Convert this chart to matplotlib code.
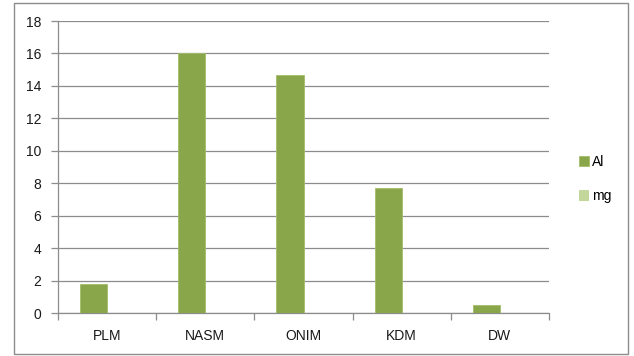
import numpy as np
import matplotlib
matplotlib.use("Agg")
import matplotlib.pyplot as plt
from matplotlib.patches import Rectangle

categories = ["PLM", "NASM", "ONIM", "KDM", "DW"]
al_values = [1.8, 16.0, 14.7, 7.7, 0.5]
mg_values = [0.0, 0.0, 0.0, 0.0, 0.0]
y_ticks = [0, 2, 4, 6, 8, 10, 12, 14, 16, 18]

plt.rcParams["font.family"] = ["Liberation Sans", "DejaVu Sans"]

W, H = 634, 356
fig = plt.figure(figsize=(W / 100, H / 100), dpi=100)
# plot area in pixels: x 58..549, y 21..313
ax = fig.add_axes([58 / W, 1 - 313.3 / H, (549 - 58) / W, (313.3 - 21) / H])

# chart border
fig.patches.append(Rectangle((14 / W, 1 - 354 / H), 614 / W, 351 / H,
                             transform=fig.transFigure, fill=False,
                             edgecolor="#8c8c8c", linewidth=1.0))

x = np.arange(len(categories))
w = 0.275
ax.bar(x - w / 2, al_values, w, color="#8aa64b", edgecolor="#a4bd6a", linewidth=0.6, label="Al", zorder=3)
ax.bar(x + w / 2, mg_values, w, color="#c3d69b", label="mg", zorder=3)

ax.set_xlim(-0.5, len(categories) - 0.5)
ax.set_ylim(0, 18)
ax.set_yticks(y_ticks)
ax.set_yticklabels([str(t) for t in y_ticks], fontsize=10, color="#1a1a1a")
ax.yaxis.grid(True, color="#8c8c8c", linewidth=0.9, zorder=0)
ax.set_axisbelow(True)

ax.set_xticks(x)
ax.set_xticklabels(categories, fontsize=10, color="#1a1a1a")
ax.set_xticks(np.arange(-0.5, len(categories)), minor=True)
ax.tick_params(axis="x", which="major", length=0, pad=11)
ax.tick_params(axis="x", which="minor", length=5, color="#8c8c8c", width=0.9)
ax.tick_params(axis="y", length=5, color="#8c8c8c", width=0.9, pad=7)

for s in ("top", "right"):
    ax.spines[s].set_visible(False)
for s in ("left", "bottom"):
    ax.spines[s].set_color("#8c8c8c")
    ax.spines[s].set_linewidth(0.9)

leg = fig.legend(loc="center left", bbox_to_anchor=(566 / W, 1 - 179 / H),
                 frameon=False, fontsize=10, handlelength=0.75, handleheight=0.75,
                 handletextpad=0.2, labelspacing=1.5)

fig.savefig("out.png", dpi=100)
